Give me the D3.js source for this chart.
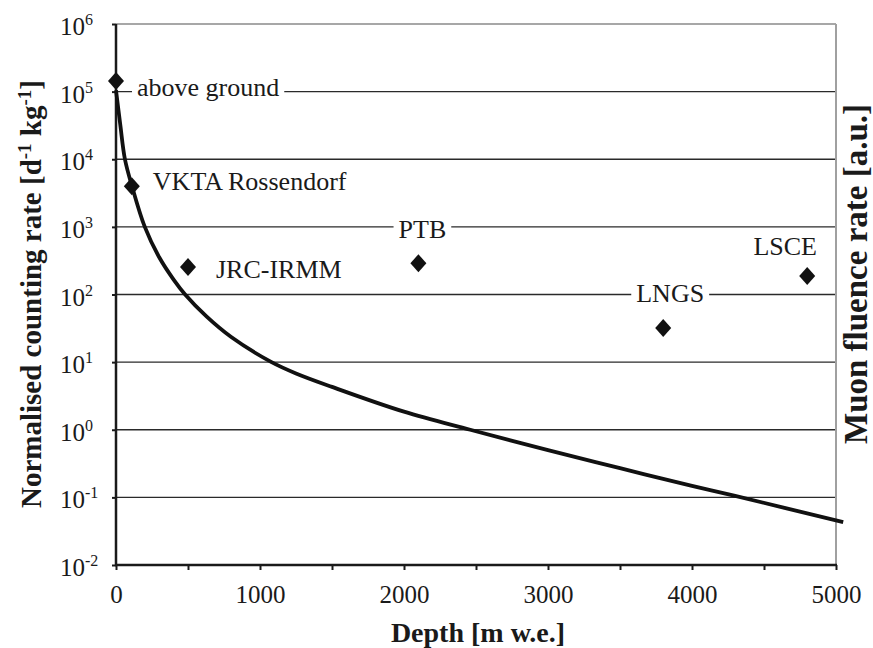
<!DOCTYPE html>
<html>
<head>
<meta charset="utf-8">
<script src="https://cdn.jsdelivr.net/npm/d3@7"></script>
<style>
  body { margin: 0; background: #fff; }
  svg { display: block; }
  svg text { font-family: "Liberation Serif", "Times New Roman", serif; fill: #1a1a1a; }
</style>
</head>
<body>
<svg width="873" height="648" font-family="Liberation Serif"></svg>
<script>
// muon fluence curve
var muonDepth = [0, 30, 62, 111, 200, 300, 400, 480, 630, 800, 1080, 1250, 1500, 2000, 2460, 3000, 3500, 4000, 4300, 5050];
var muonRate  = [1.05e5, 3.2e4, 1e4, 4e3, 1e3, 355, 166, 100, 47, 23.5, 10, 6.8, 4.3, 1.85, 1, 0.5, 0.27, 0.148, 0.105, 0.043];

// measured sites
var siteNames = ["above ground", "VKTA Rossendorf", "JRC-IRMM", "PTB", "LNGS", "LSCE"];
var siteDepth = [0, 110, 500, 2100, 3800, 4800];
var siteRate  = [1.43e5, 4.0e3, 254, 290, 32, 187];

// axis ticks
var depthTicks = [0, 500, 1000, 1500, 2000, 2500, 3000, 3500, 4000, 4500, 5000];
var rateExps = [-2, -1, 0, 1, 2, 3, 4, 5, 6];

// label placement relative to each diamond: [dx, dy, anchor, white box]
var labelOffsets = [
  [21, 15, "start", true],
  [21, 4, "start", false],
  [28, 11, "start", false],
  [4, -25, "middle", true],
  [7, -26, "middle", true],
  [-22, -21, "middle", false]
];

var serif = "'Liberation Serif', 'Times New Roman', serif";

var svg = d3.select("svg"),
    plotL = 116, plotR = 836, plotT = 24, plotB = 565;

var x = d3.scaleLinear().domain([0, 5000]).range([plotL, plotR]);
var y = d3.scaleLog().domain([1e-2, 1e6]).range([plotB, plotT]);

// grid lines
svg.append("g")
  .selectAll("line")
  .data(rateExps.slice(1))
  .enter()
  .append("line")
    .attr("x1", plotL)
    .attr("x2", plotR)
    .attr("y1", function(d){ return y(Math.pow(10, d)) })
    .attr("y2", function(d){ return y(Math.pow(10, d)) })
    .attr("stroke", function(d){ return d == 6 ? "#8a8a8a" : "#2a2a2a" })
    .attr("stroke-width", 1.4);

// right border
svg.append("line")
  .attr("x1", plotR).attr("x2", plotR)
  .attr("y1", plotT).attr("y2", plotB)
  .attr("stroke", "#a0a0a0")
  .attr("stroke-width", 2);

// x axis
var xAxis = svg.append("g")
  .attr("transform", "translate(0," + plotB + ")")
  .call(d3.axisBottom(x)
    .tickValues(depthTicks)
    .tickSize(5)
    .tickFormat(function(d){ return d % 1000 == 0 ? d : "" }));
xAxis.attr("font-family", serif);
xAxis.select(".domain").remove();
xAxis.selectAll(".tick line").attr("stroke", "#1a1a1a").attr("stroke-width", 2);
xAxis.selectAll(".tick text")
  .attr("y", 38).attr("dy", null)
  .attr("fill", "#1a1a1a")
  .style("font-size", "25px")
  .style("font-family", serif);

// y axis
var yAxis = svg.append("g")
  .attr("transform", "translate(" + plotL + ",0)")
  .call(d3.axisLeft(y)
    .tickValues(rateExps.map(function(e){ return Math.pow(10, e) }))
    .tickSize(4)
    .tickFormat(""));
yAxis.select(".domain").remove();
yAxis.selectAll(".tick line").attr("stroke", "#1a1a1a").attr("stroke-width", 2);

var yLabels = svg.append("g")
  .selectAll("text")
  .data(rateExps)
  .enter()
  .append("text")
    .attr("x", 60)
    .attr("y", function(d){ return y(Math.pow(10, d)) + 11 })
    .style("font-family", serif)
    .style("font-size", "25px");
yLabels.append("tspan").text("10");
yLabels.append("tspan")
  .attr("dy", -10)
  .style("font-size", "16px")
  .text(function(d){ return d });

// axis lines
svg.append("line")
  .attr("x1", plotL).attr("x2", plotL)
  .attr("y1", plotT).attr("y2", plotB + 1)
  .attr("stroke", "#1a1a1a").attr("stroke-width", 2.5);
svg.append("line")
  .attr("x1", plotL - 1).attr("x2", plotR + 1)
  .attr("y1", plotB).attr("y2", plotB)
  .attr("stroke", "#1a1a1a").attr("stroke-width", 2.5);

// site labels with white boxes that break the grid lines
var sites = siteNames.map(function(n, i){
  return {name: n, depth: siteDepth[i], rate: siteRate[i], off: labelOffsets[i]};
});

var labels = svg.append("g")
  .selectAll("g")
  .data(sites)
  .enter()
  .append("g");
labels.append("rect").attr("fill", "#fff");
labels.append("text")
  .attr("x", function(d){ return x(d.depth) + d.off[0] })
  .attr("y", function(d){ return y(d.rate) + d.off[1] })
  .attr("text-anchor", function(d){ return d.off[2] })
  .style("font-family", serif)
  .style("font-size", "26px")
  .text(function(d){ return d.name });
labels.each(function(d){
  var g = d3.select(this);
  var b = g.select("text").node().getBBox();
  if (d.off[3]) {
    g.select("rect")
      .attr("x", b.x - 5).attr("y", b.y)
      .attr("width", b.width + 10).attr("height", b.height);
  } else {
    g.select("rect").remove();
  }
});

// muon curve
var line = d3.line()
  .x(function(d){ return x(d[0]) })
  .y(function(d){ return y(d[1]) })
  .curve(d3.curveCatmullRom.alpha(0.5));

svg.append("path")
  .datum(muonDepth.map(function(d, i){ return [d, muonRate[i]] }))
  .attr("d", line)
  .attr("fill", "none")
  .attr("stroke", "#111")
  .attr("stroke-width", 3.8)
  .attr("stroke-linejoin", "round");

// diamonds
svg.append("g")
  .selectAll("path")
  .data(sites)
  .enter()
  .append("path")
    .attr("transform", function(d){ return "translate(" + x(d.depth) + "," + y(d.rate) + ")" })
    .attr("d", "M0,-9L8,0L0,9L-8,0Z")
    .attr("fill", "#111");

// axis titles
svg.append("text")
  .attr("x", 478).attr("y", 642)
  .attr("text-anchor", "middle")
  .style("font-family", serif)
  .style("font-size", "28px").style("font-weight", "bold")
  .text("Depth [m w.e.]");

var yTitle = svg.append("text")
  .attr("transform", "translate(41,294) rotate(-90)")
  .attr("text-anchor", "middle")
  .style("font-family", serif)
  .style("font-size", "29px").style("font-weight", "bold");
yTitle.append("tspan").text("Normalised counting rate [d");
yTitle.append("tspan").attr("dy", -10).style("font-size", "19px").text("-1");
yTitle.append("tspan").attr("dy", 10).text(" kg");
yTitle.append("tspan").attr("dy", -10).style("font-size", "19px").text("-1");
yTitle.append("tspan").attr("dy", 10).text("]");

svg.append("text")
  .attr("transform", "translate(867,274) rotate(-90)")
  .attr("text-anchor", "middle")
  .style("font-family", serif)
  .style("font-size", "33px").style("font-weight", "bold")
  .text("Muon fluence rate [a.u.]");
</script>
</body>
</html>
